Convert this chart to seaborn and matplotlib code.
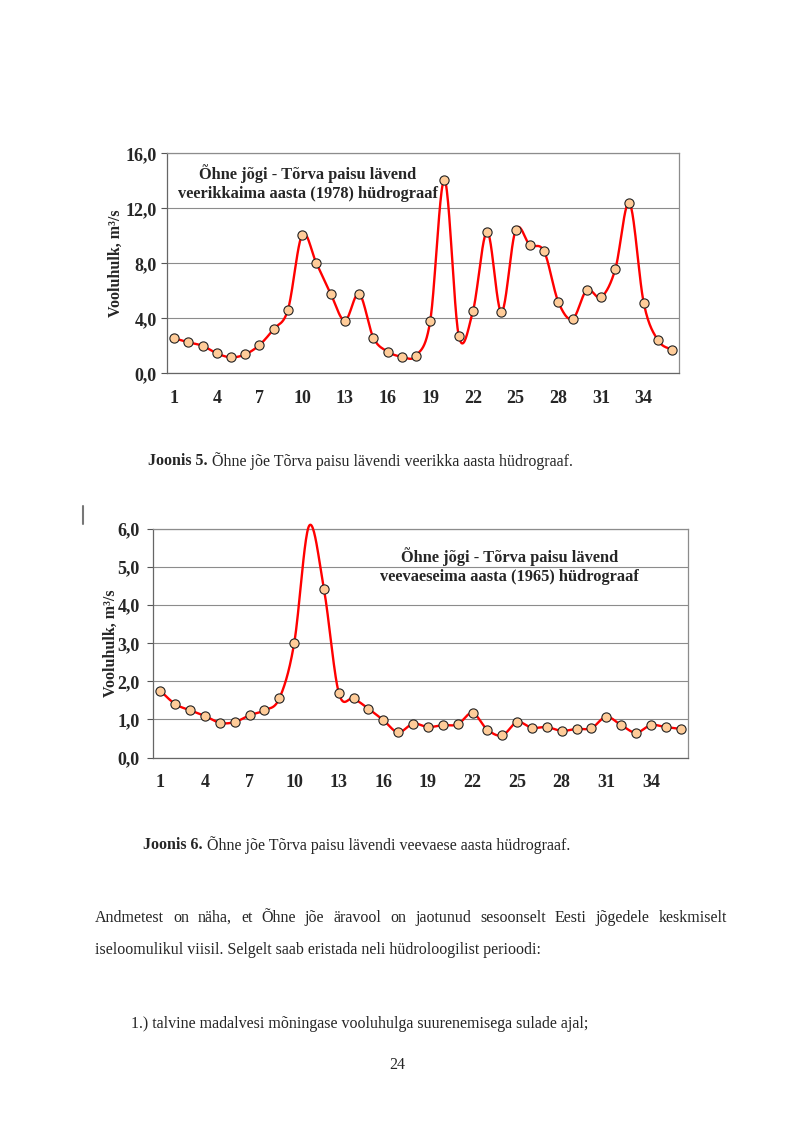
import numpy as np
import pandas as pd
import seaborn as sns
import matplotlib
matplotlib.use("Agg")
import matplotlib.pyplot as plt
from matplotlib.ticker import FixedLocator, NullFormatter

# dekaadid 1..36
decades = list(range(1, 37))
x_tick_labels = [1, 4, 7, 10, 13, 16, 19, 22, 25, 28, 31, 34]

# veerikkaim aasta 1978, m3/s
flow_1978 = [2.55, 2.25, 2.00, 1.45, 1.16, 1.38, 2.06, 3.22, 4.63, 10.08,
             8.00, 5.79, 3.83, 5.79, 2.59, 1.58, 1.21, 1.28, 3.83, 14.06,
             2.74, 4.53, 10.30, 4.44, 10.42, 9.33, 8.87, 5.19, 3.95, 6.06,
             5.53, 7.56, 12.39, 5.12, 2.40, 1.72]
y_ticks_1978 = [0, 4, 8, 12, 16]

# veevaeseim aasta 1965, m3/s
flow_1965 = [1.75, 1.40, 1.24, 1.09, 0.91, 0.93, 1.11, 1.24, 1.55, 3.00,
             6.08, 4.43, 1.70, 1.55, 1.28, 0.98, 0.66, 0.89, 0.80, 0.85,
             0.87, 1.17, 0.73, 0.58, 0.93, 0.78, 0.80, 0.70, 0.75, 0.77,
             1.07, 0.85, 0.65, 0.85, 0.80, 0.75]
y_ticks_1965 = [0, 1, 2, 3, 4, 5, 6]

title_1978 = "Õhne jõgi - Tõrva paisu lävend\nveerikkaima aasta (1978) hüdrograaf"
title_1965 = "Õhne jõgi - Tõrva paisu lävend\nveevaeseima aasta (1965) hüdrograaf"
y_label = "Vooluhulk, m³/s"

sns.set_style("white")
plt.rcParams['font.family'] = ['Liberation Serif', 'DejaVu Serif']

W, H = 794, 1123
fig = plt.figure(figsize=(W / 100, H / 100), dpi=100)


def px_axes(left, top, right, bottom):
    # rectangle in page pixels -> figure fractions
    return fig.add_axes([left / W, 1 - bottom / H, (right - left) / W, (bottom - top) / H])


def smooth(x, y, n=24):
    # Excel-like smoothed line (Catmull-Rom through the points)
    x = np.asarray(x, float)
    y = np.asarray(y, float)
    px = np.concatenate([[x[0]], x, [x[-1]]])
    py = np.concatenate([[y[0]], y, [y[-1]]])
    xs, ys = [], []
    t = np.linspace(0, 1, n, endpoint=False)
    for i in range(1, len(px) - 2):
        p0, p1, p2, p3 = py[i - 1], py[i], py[i + 1], py[i + 2]
        q0, q1, q2, q3 = px[i - 1], px[i], px[i + 1], px[i + 2]
        b1y, b2y = p1 + (p2 - p0) / 6, p2 - (p3 - p1) / 6
        b1x, b2x = q1 + (q2 - q0) / 6, q2 - (q3 - q1) / 6
        xs.append((1 - t) ** 3 * q1 + 3 * (1 - t) ** 2 * t * b1x + 3 * (1 - t) * t ** 2 * b2x + t ** 3 * q2)
        ys.append((1 - t) ** 3 * p1 + 3 * (1 - t) ** 2 * t * b1y + 3 * (1 - t) * t ** 2 * b2y + t ** 3 * p2)
    xs.append([x[-1]])
    ys.append([y[-1]])
    return np.concatenate(xs), np.concatenate(ys)


def hydrograph(ax, values, yticks, title, title_xy, ylab_x, ytick_pad):
    df = pd.DataFrame({"dekaad": decades, "Q": values})
    sx, sy = smooth(df["dekaad"], df["Q"])
    sns.lineplot(x=sx, y=sy, ax=ax, color="#ff0000", lw=1.7, sort=False,
                 estimator=None, zorder=3, clip_on=False)
    shown = df[df["Q"] <= yticks[-1]]
    sns.scatterplot(data=shown, x="dekaad", y="Q", ax=ax, s=44, color="#ffcc99",
                    edgecolor="#222222", linewidth=0.8, zorder=4, clip_on=False)

    ax.set_xlim(0.5, 36.5)
    ax.set_ylim(yticks[0], yticks[-1])
    ax.set_yticks(yticks)
    ax.set_yticklabels([f"{v:.1f}".replace(".", ",") for v in yticks])
    ax.set_xticks(x_tick_labels)
    ax.set_xticklabels([str(v) for v in x_tick_labels])
    ax.xaxis.set_minor_locator(FixedLocator(np.arange(0.5, 37, 1)))
    ax.xaxis.set_minor_formatter(NullFormatter())
    ax.tick_params(axis="x", which="major", length=0, pad=12, labelsize=13)
    ax.tick_params(axis="x", which="minor", length=4, width=0.8, color="#555555", direction="out")
    ax.tick_params(axis="y", length=4, width=0.8, color="#555555", direction="out",
                   pad=ytick_pad, labelsize=13, left=True)
    for lab in ax.get_xticklabels() + ax.get_yticklabels():
        lab.set_fontweight("bold")

    ax.grid(axis="y", color="#8c8c8c", lw=0.8)
    ax.set_axisbelow(True)
    for side in ["top", "right", "left", "bottom"]:
        ax.spines[side].set_visible(True)
        ax.spines[side].set_color("#8c8c8c")
        ax.spines[side].set_linewidth(0.9)
    ax.spines["left"].set_color("#666666")
    ax.spines["bottom"].set_color("#666666")

    ax.set_xlabel("")
    ax.set_ylabel(y_label, fontsize=11.5, fontweight="bold")
    ax.yaxis.set_label_coords(ylab_x, 0.5)
    ax.text(title_xy[0], title_xy[1], title, transform=ax.transAxes, ha="center", va="center",
            fontsize=11.8, fontweight="bold", linespacing=1.25)


ax1 = px_axes(167, 153.3, 679.3, 373.3)
hydrograph(ax1, flow_1978, y_ticks_1978, title_1978, (0.275, 0.865), -0.084, 3.5)

ax2 = px_axes(153, 529, 688, 757.5)
hydrograph(ax2, flow_1965, y_ticks_1965, title_1965, (0.667, 0.838), -0.064, 5.5)

# muutusriba vasakul
fig.add_artist(plt.Line2D([83 / W, 83 / W], [1 - 506 / H, 1 - 524 / H], color="#777777", lw=1.5))

# ---- page text ----
body_size = 11.5
renderer = fig.canvas.get_renderer()


def px_text(x, y, s, **kw):
    return fig.text(x / W, 1 - y / H, s, va="center", fontsize=body_size, **kw)


def caption(x, y, bold, rest):
    t = px_text(x, y, bold, fontweight="bold")
    w = t.get_window_extent(renderer).width
    px_text(x + w, y, " " + rest)


caption(148, 461, "Joonis 5.", "Õhne jõe Tõrva paisu lävendi veerikka aasta hüdrograaf.")
caption(143, 845, "Joonis 6.", "Õhne jõe Tõrva paisu lävendi veevaese aasta hüdrograaf.")


def justified(x0, x1, y, line):
    words = line.split()
    objs = [px_text(x0, y, w) for w in words]
    widths = [o.get_window_extent(renderer).width for o in objs]
    gap = (x1 - x0 - sum(widths)) / (len(words) - 1)
    pos = x0
    for o, w in zip(objs, widths):
        o.set_x(pos / W)
        pos += w + gap


justified(95, 727, 918, "Andmetest on näha, et Õhne jõe äravool on jaotunud sesoonselt Eesti jõgedele keskmiselt")
px_text(95, 950, "iseloomulikul viisil. Selgelt saab eristada neli hüdroloogilist perioodi:")
px_text(131, 1024, "1.) talvine madalvesi mõningase vooluhulga suurenemisega sulade ajal;")
px_text(397, 1065, "24", ha="center")

fig.savefig("out.png", dpi=100)
